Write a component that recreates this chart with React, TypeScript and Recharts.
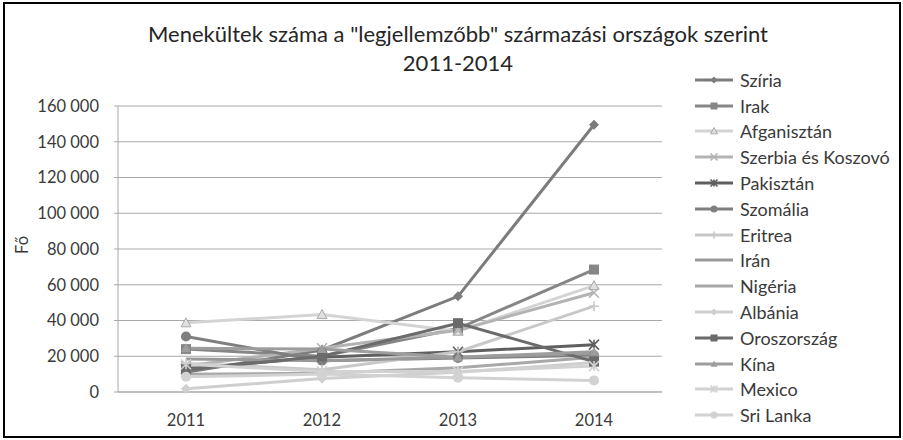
// Refugee numbers by main country of origin, 2011-2014 (grey Excel-style line chart).
import { CartesianGrid, Legend, Line, LineChart, XAxis, YAxis } from 'recharts'

const YEARS = ['2011', '2012', '2013', '2014']

const SZIRIA = [11000, 23500, 53500, 149500]
const IRAK = [24000, 20000, 35500, 68500]
const AFGANISZTAN = [38700, 43300, 34000, 59500]
const SZERBIA = [14500, 24500, 34500, 55500]
const PAKISZTAN = [13000, 19500, 22500, 26500]
const SZOMALIA = [31000, 17500, 19000, 20500]
const ERITREA = [16000, 12500, 22500, 48000]
const IRAN = [18500, 17500, 19500, 21500]
const NIGERIA = [10000, 10500, 13500, 19500]
const ALBANIA = [1800, 7500, 11000, 16500]
const OROSZORSZAG = [12500, 20000, 38500, 17000]
const KINA = [24500, 24000, 19500, 22500]
const MEXICO = [15500, 11500, 11500, 14500]
const SRI_LANKA = [8500, 10000, 8000, 6500]

const Y_TICKS = [0, 20000, 40000, 60000, 80000, 100000, 120000, 140000, 160000]

type Shape = 'diamond' | 'square' | 'triangle' | 'triangleOpen' | 'x' | 'star' | 'circle' | 'plus' | 'none'

const SERIES: { name: string; values: number[]; color: string; shape: Shape }[] = [
  { name: 'Szíria', values: SZIRIA, color: '#7c7c7c', shape: 'diamond' },
  { name: 'Irak', values: IRAK, color: '#868686', shape: 'square' },
  { name: 'Afganisztán', values: AFGANISZTAN, color: '#d4d4d4', shape: 'triangleOpen' },
  { name: 'Szerbia és Koszovó', values: SZERBIA, color: '#b3b3b3', shape: 'x' },
  { name: 'Pakisztán', values: PAKISZTAN, color: '#5f5f5f', shape: 'star' },
  { name: 'Szomália', values: SZOMALIA, color: '#7f7f7f', shape: 'circle' },
  { name: 'Eritrea', values: ERITREA, color: '#c8c8c8', shape: 'plus' },
  { name: 'Irán', values: IRAN, color: '#999999', shape: 'none' },
  { name: 'Nigéria', values: NIGERIA, color: '#a8a8a8', shape: 'none' },
  { name: 'Albánia', values: ALBANIA, color: '#cfcfcf', shape: 'diamond' },
  { name: 'Oroszország', values: OROSZORSZAG, color: '#6b6b6b', shape: 'square' },
  { name: 'Kína', values: KINA, color: '#9d9d9d', shape: 'triangle' },
  { name: 'Mexico', values: MEXICO, color: '#d2d2d2', shape: 'star' },
  { name: 'Sri Lanka', values: SRI_LANKA, color: '#d2d2d2', shape: 'circle' },
]

const data = YEARS.map((year, i) => {
  const row: Record<string, string | number> = { year }
  SERIES.forEach((s) => (row[s.name] = s.values[i]))
  return row
})

const FONT = 'Lato, "Open Sans", sans-serif'
const TEXT = '#3a3a3a'
const GRID = '#a9a9a9'

function fmt(n: number) {
  return String(n).replace(/\B(?=(\d{3})+(?!\d))/g, ' ')
}

function Marker({ cx, cy, shape, color, r }: { cx: number; cy: number; shape: Shape; color: string; r: number }) {
  const sw = 1.6
  switch (shape) {
    case 'diamond':
      return <polygon points={`${cx},${cy - r} ${cx + r},${cy} ${cx},${cy + r} ${cx - r},${cy}`} fill={color} />
    case 'square':
      return <rect x={cx - r} y={cy - r} width={r * 2} height={r * 2} fill={color} />
    case 'triangle':
      return <polygon points={`${cx},${cy - r} ${cx + r},${cy + r * 0.8} ${cx - r},${cy + r * 0.8}`} fill={color} />
    case 'triangleOpen':
      return (
        <polygon
          points={`${cx},${cy - r} ${cx + r},${cy + r * 0.8} ${cx - r},${cy + r * 0.8}`}
          fill="#e0e0e0"
          stroke="#a8a8a8"
          strokeWidth={1}
        />
      )
    case 'circle':
      return <circle cx={cx} cy={cy} r={r} fill={color} />
    case 'x':
      return (
        <path d={`M${cx - r},${cy - r}L${cx + r},${cy + r}M${cx - r},${cy + r}L${cx + r},${cy - r}`} stroke={color} strokeWidth={sw} />
      )
    case 'star':
      return (
        <path
          d={`M${cx - r},${cy - r}L${cx + r},${cy + r}M${cx - r},${cy + r}L${cx + r},${cy - r}M${cx},${cy - r}L${cx},${cy + r}`}
          stroke={color}
          strokeWidth={sw}
        />
      )
    case 'plus':
      return <path d={`M${cx - r},${cy}L${cx + r},${cy}M${cx},${cy - r}L${cx},${cy + r}`} stroke={color} strokeWidth={sw} />
    default:
      return <g />
  }
}

// legend keeps the series order (recharts sorts the payload by name)
function LegendList() {
  return (
    <div style={{ fontFamily: FONT, fontSize: 18, color: TEXT }}>
      {SERIES.map((s) => (
        <div key={s.name} style={{ height: 25.8, display: 'flex', alignItems: 'center', whiteSpace: 'nowrap' }}>
          <svg width={38} height={14} style={{ flex: 'none' }}>
            <line x1={0} x2={38} y1={7} y2={7} stroke={s.color} strokeWidth={3} />
            <Marker cx={19} cy={7} shape={s.shape} color={s.color} r={3.5} />
          </svg>
          <span style={{ marginLeft: 7 }}>{s.name}</span>
        </div>
      ))}
    </div>
  )
}

export default function App() {
  return (
    <div style={{ position: 'relative', width: 903, height: 440, background: '#fff', fontFamily: FONT }}>
      <style>{'body{margin:0}'}</style>
      <div
        style={{
          position: 'absolute',
          left: 3,
          top: 2,
          width: 894,
          height: 432,
          border: '2px solid #000',
        }}
      />
      <div
        style={{
          position: 'absolute',
          left: 0,
          top: 19,
          width: 916,
          textAlign: 'center',
          fontSize: 22,
          lineHeight: '29px',
          color: '#262626',
        }}
      >
        Menekültek száma a "legjellemzőbb" származási országok szerint
        <br />
        2011-2014
      </div>
      <LineChart width={903} height={440} data={data} margin={{ top: 106, right: 241, bottom: 18, left: 18 }}>
        <CartesianGrid vertical={false} stroke={GRID} strokeWidth={1} />
        <XAxis
          dataKey="year"
          padding={{ left: 68, right: 68 }}
          height={30}
          stroke={GRID}
          tickLine={false}
          tickMargin={16}
          tick={{ fill: TEXT, fontSize: 16.5, fontFamily: FONT }}
        />
        <YAxis
          width={100}
          domain={[0, 160000]}
          ticks={Y_TICKS}
          tickFormatter={fmt}
          stroke={GRID}
          tickSize={4}
          tickMargin={15}
          tick={{ fill: TEXT, fontSize: 16.5, fontFamily: FONT }}
          label={{
            content: () => (
              <text
                x={22}
                y={245}
                transform="rotate(-90 22 245)"
                textAnchor="middle"
                dominantBaseline="central"
                fill={TEXT}
                fontSize={16.5}
                fontFamily={FONT}
              >
                Fő
              </text>
            ),
          }}
        />
        <Legend
          layout="vertical"
          align="center"
          verticalAlign="middle"
          content={() => <LegendList />}
          wrapperStyle={{ left: 695, top: 67, width: 205 }}
        />
        {SERIES.map((s) => (
          <Line
            key={s.name}
            dataKey={s.name}
            name={s.name}
            stroke={s.color}
            strokeWidth={3}
            isAnimationActive={false}
            dot={(p: any) => (
              <Marker key={`${s.name}-${p.index}`} cx={p.cx} cy={p.cy} shape={s.shape} color={s.color} r={5} />
            )}
            activeDot={false}
          />
        ))}
      </LineChart>
    </div>
  )
}
